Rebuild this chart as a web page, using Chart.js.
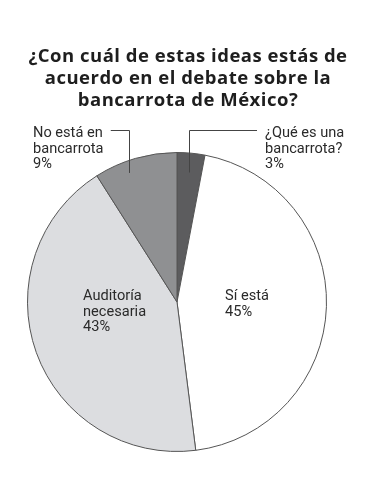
<!DOCTYPE html>
<html>
<head>
<meta charset="utf-8">
<script src="https://cdn.jsdelivr.net/npm/chart.js@4.4.0/dist/chart.umd.min.js"></script>
<style>
  html, body { margin: 0; padding: 0; background: #fff; }
  #wrap { width: 376px; height: 500px; position: relative; }
</style>
</head>
<body>
<div id="wrap"><canvas id="PieChart" width="376" height="500"></canvas></div>
<script>
// Data (clockwise from 12 o'clock)
const categories = ["¿Qué es una bancarrota?", "Sí está", "Auditoría necesaria", "No está en bancarrota"];
const shares = [3, 45, 43, 9];
const sliceColors = ["#5c5c5e", "#ffffff", "#dcdde0", "#8f9092"];

const titleLines = [
  "¿Con cuál de estas ideas estás de",
  "acuerdo en el debate sobre la",
  "bancarrota de México?"
];

// label lines per slice + where they go
const labelLines = [
  ["¿Qué es una", "bancarrota?", "3%"],
  ["Sí está", "45%"],
  ["Auditoría", "necesaria", "43%"],
  ["No está en", "bancarrota", "9%"]
];
const labelPos = [
  { x: 265, y: 137, leader: true, side: "right" },
  { x: 225, y: 300 },
  { x: 83, y: 300 },
  { x: 33, y: 137, leader: true, side: "left" }
];

const TITLE_FONT = "'Open Sans', Roboto, sans-serif";
const FONT = "Roboto, 'Liberation Sans', sans-serif";

const labelPlugin = {
  id: "pieLabels",
  afterDraw(chart) {
    const ctx = chart.ctx;
    ctx.save();

    // title
    ctx.fillStyle = "#1e1e1e";
    ctx.font = "bold 18.5px " + TITLE_FONT;
    ctx.letterSpacing = "0.5px";
    ctx.textAlign = "center";
    ctx.textBaseline = "alphabetic";
    titleLines.forEach((line, i) => {
      ctx.fillText(line, 188, 62 + i * 22);
    });
    ctx.letterSpacing = "0px";

    const meta = chart.getDatasetMeta(0);
    ctx.font = "14.6px " + FONT;
    ctx.textAlign = "left";
    ctx.fillStyle = "#2a2a2a";

    labelLines.forEach((lines, i) => {
      const p = labelPos[i];
      lines.forEach((line, j) => {
        ctx.fillText(line, p.x, p.y + j * 15.7);
      });

      if (p.leader) {
        // leader line drops into the slice
        const arc = meta.data[i];
        const mid = (arc.startAngle + arc.endAngle) / 2 + (p.side === "left" ? -0.07 : 0);
        const rr = arc.outerRadius * (p.side === "left" ? 0.92 : 0.87);
        const ex = arc.x + Math.cos(mid) * rr;
        const ey = arc.y + Math.sin(mid) * rr;
        const ly = p.y - 6.5;
        ctx.strokeStyle = "#444";
        ctx.lineWidth = 1;
        ctx.beginPath();
        if (p.side === "left") {
          const w = ctx.measureText(lines[0]).width;
          ctx.moveTo(p.x + w + 8, ly);
        } else {
          ctx.moveTo(p.x - 8, ly);
        }
        ctx.lineTo(Math.round(ex) + 0.5, ly);
        ctx.lineTo(Math.round(ex) + 0.5, ey);
        ctx.stroke();
      }
    });
    ctx.restore();
  }
};

const ctx = document.getElementById("PieChart").getContext("2d");
const pieChart = new Chart(ctx, {
  type: "pie",
  data: {
    labels: categories,
    datasets: [{
      data: shares,
      backgroundColor: sliceColors,
      borderColor: "#555555",
      borderWidth: 1
    }]
  },
  options: {
    responsive: false,
    animation: false,
    layout: {
      padding: { top: 152, bottom: 48, left: 27, right: 49 }
    },
    plugins: {
      legend: { display: false },
      tooltip: { enabled: false },
      title: { display: false }
    }
  },
  plugins: [labelPlugin]
});
</script>
</body>
</html>
